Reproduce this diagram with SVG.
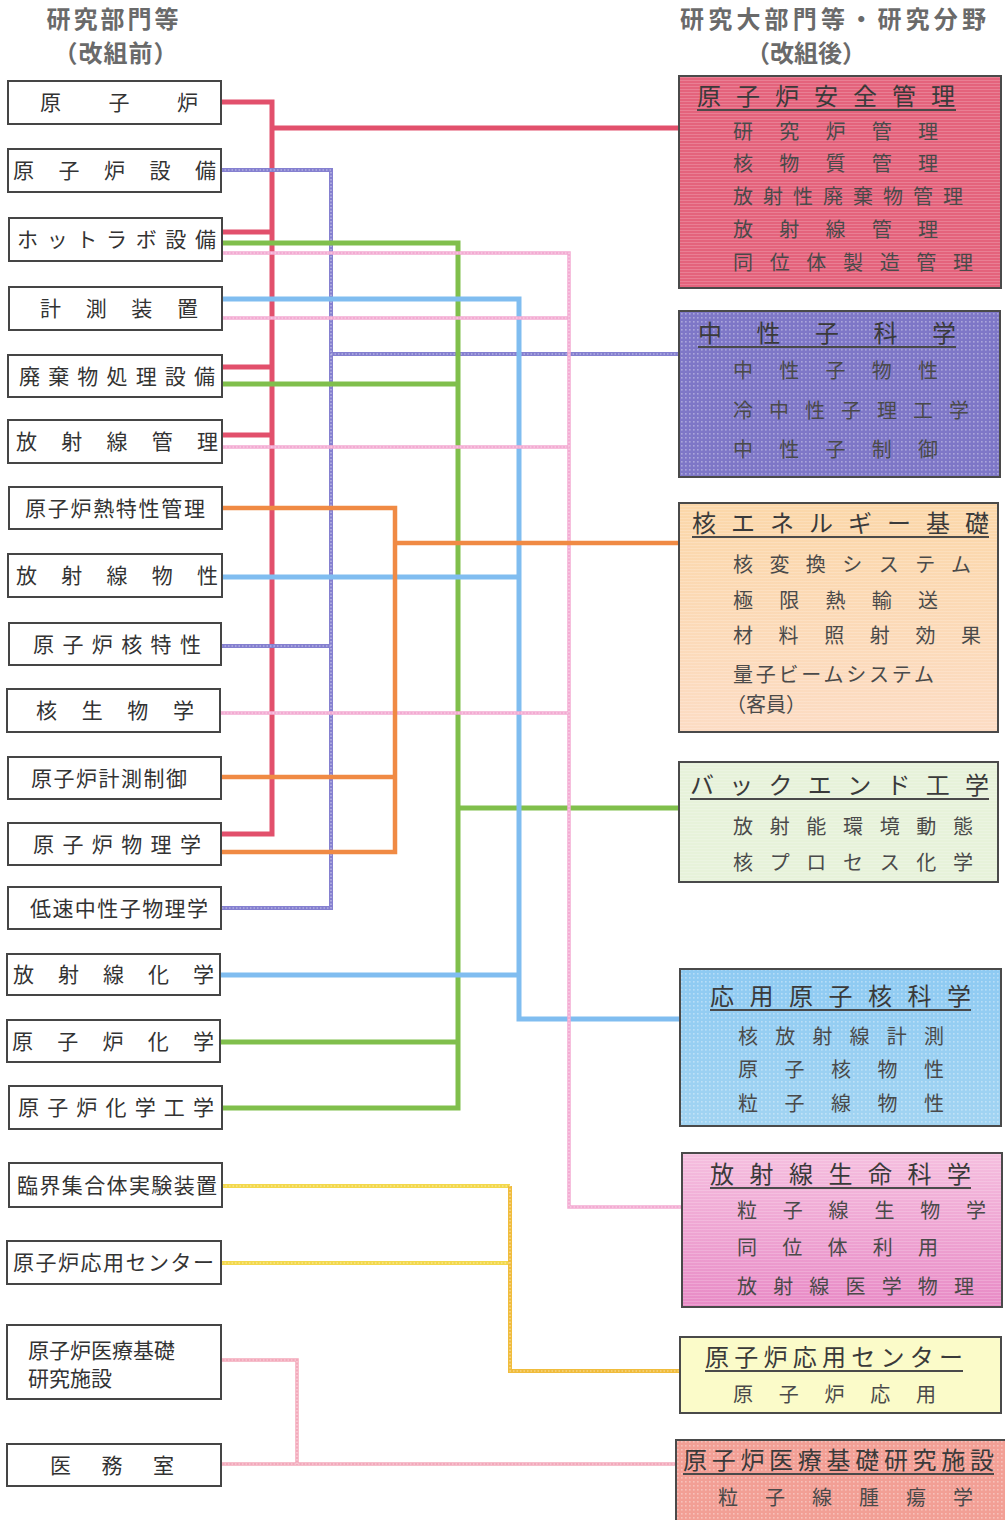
<svg xmlns="http://www.w3.org/2000/svg" width="1005" height="1520" viewBox="0 0 1005 1520">
<defs>
<style>
text{font-family:"Noto Sans CJK JP","Noto Sans CJK SC",sans-serif;}
.hd{font-size:24px;font-weight:700;fill:#6a6a6a;}
.lb rect{fill:#fff;stroke:#454545;stroke-width:2;}
.lb text{font-size:21px;fill:#333;}
.rb rect.bx{stroke:#4a4a4a;stroke-width:2;}
.rt{font-size:24px;fill:#3a3a3a;}
.ri{font-size:20px;fill:#4a4a4a;}
.ul{stroke:#4a4a4a;stroke-width:2;}
.c{fill:none;stroke-linejoin:miter;stroke-linecap:butt;}
.red{stroke:#e2506c;stroke-width:5;}
.pur{stroke:#8580d0;stroke-width:4;}
.grn{stroke:#80bf4c;stroke-width:5;}
.blu{stroke:#80bdf0;stroke-width:5;}
.pnk{stroke:#f3abd2;stroke-width:3.5;}
.org{stroke:#f08a44;stroke-width:4.5;}
.yel{stroke:#f3d84c;stroke-width:4;}
.yel2{stroke:#f0bc3c;stroke-width:4;}
.pk2{stroke:#f3a9bb;stroke-width:3.5;}
.tx{stroke:#fff;stroke-width:1.2;stroke-dasharray:1.5 2;opacity:.55;}
.tex{pointer-events:none;}
</style>
<pattern id="dots" width="4" height="4" patternUnits="userSpaceOnUse"><rect x="1" y="1" width="1.6" height="1.6" fill="#fff" opacity="0.35"/></pattern>
<pattern id="hl" width="4" height="3" patternUnits="userSpaceOnUse"><rect y="2" width="4" height="1" fill="#fff" opacity="0.18"/></pattern>
<linearGradient id="gC" x1="0" y1="0" x2="0" y2="1"><stop offset="0" stop-color="#fbd7a9"/><stop offset="1" stop-color="#fcdcc4"/></linearGradient>
<linearGradient id="gF" x1="0" y1="0" x2="0" y2="1"><stop offset="0" stop-color="#f5bfdf"/><stop offset="1" stop-color="#e88bc6"/></linearGradient>
<linearGradient id="gE" x1="0" y1="0" x2="0" y2="1"><stop offset="0" stop-color="#8ecaf2"/><stop offset="1" stop-color="#a2d4f2"/></linearGradient>
</defs>
<rect width="1005" height="1520" fill="#fff"/>

<g id="headings">
<text class="hd" x="114" y="28" text-anchor="middle" letter-spacing="3">研究部門等</text>
<text class="hd" x="116" y="62" text-anchor="middle" letter-spacing="1">（改組前）</text>
<text class="hd" x="680" y="28" textLength="306" lengthAdjust="spacing">研究大部門等・研究分野</text>
<text class="hd" x="806" y="62" text-anchor="middle">（改組後）</text>
</g>

<g id="connectors">
<path class="c red" d="M221 102H272V834H221M222 232H272M222 367H272M222 435H272M272 128H679"/>
<path class="c pur" d="M221 170H331V908H221M221 646H331M331 354H679"/>
<path class="c tx" d="M221 170H331V908H221M221 646H331M331 354H679"/>
<path class="c grn" d="M222 243H458V1108H222M222 384H458M220 1042H458M458 808H679"/>
<path class="c blu" d="M222 299H519V1019H680M222 577H519M220 975H519"/>
<path class="c pnk" d="M222 253H569V1207H682M222 318H569M222 447H569M220 713H569"/>
<path class="c tx" d="M222 253H569V1207H682M222 318H569M222 447H569M220 713H569"/>
<path class="c org" d="M222 508H395V852H221M221 777H395M395 543H679"/>
<path class="c yel" d="M222 1186H510M221 1263H510"/>
<path class="c yel2" d="M510 1186V1371H680"/>
<path class="c tx" d="M222 1186H510V1371H680M221 1263H510"/>
<path class="c pk2" d="M221 1360H297V1464M221 1464H676"/>
<path class="c tx" d="M221 1360H297V1464M221 1464H676"/>
</g>

<g id="n1" class="lb"><rect x="8" y="81" width="213" height="43"/><text x="40" y="110" textLength="158" lengthAdjust="spacing">原子炉</text></g>
<g id="n2" class="lb"><rect x="8" y="149" width="213" height="43"/><text x="13" y="178" textLength="203" lengthAdjust="spacing">原子炉設備</text></g>
<g id="n3" class="lb"><rect x="9" y="218" width="213" height="43"/><text x="17" y="247" textLength="199" lengthAdjust="spacing">ホットラボ設備</text></g>
<g id="n4" class="lb"><rect x="9" y="287" width="213" height="43"/><text x="40" y="316" textLength="158" lengthAdjust="spacing">計測装置</text></g>
<g id="n5" class="lb"><rect x="8" y="355" width="214" height="42"/><text x="19" y="384" textLength="196" lengthAdjust="spacing">廃棄物処理設備</text></g>
<g id="n6" class="lb"><rect x="8" y="420" width="214" height="43"/><text x="16" y="449" textLength="202" lengthAdjust="spacing">放射線管理</text></g>
<g id="n7" class="lb"><rect x="9" y="487" width="213" height="42"/><text x="25" y="516" textLength="180" lengthAdjust="spacing">原子炉熱特性管理</text></g>
<g id="n8" class="lb"><rect x="8" y="554" width="214" height="43"/><text x="16" y="583" textLength="202" lengthAdjust="spacing">放射線物性</text></g>
<g id="n9" class="lb"><rect x="9" y="623" width="212" height="42"/><text x="33" y="652" textLength="168" lengthAdjust="spacing">原子炉核特性</text></g>
<g id="n10" class="lb"><rect x="7" y="689" width="213" height="43"/><text x="36" y="718" textLength="158" lengthAdjust="spacing">核生物学</text></g>
<g id="n11" class="lb"><rect x="8" y="757" width="213" height="42"/><text x="31" y="786" textLength="156" lengthAdjust="spacing">原子炉計測制御</text></g>
<g id="n12" class="lb"><rect x="8" y="823" width="213" height="42"/><text x="33" y="852" textLength="168" lengthAdjust="spacing">原子炉物理学</text></g>
<g id="n13" class="lb"><rect x="8" y="887" width="213" height="42"/><text x="30" y="916" textLength="178" lengthAdjust="spacing">低速中性子物理学</text></g>
<g id="n14" class="lb"><rect x="7" y="954" width="213" height="41"/><text x="13" y="982" textLength="201" lengthAdjust="spacing">放射線化学</text></g>
<g id="n15" class="lb"><rect x="7" y="1020" width="213" height="42"/><text x="12" y="1049" textLength="202" lengthAdjust="spacing">原子炉化学</text></g>
<g id="n16" class="lb"><rect x="9" y="1086" width="213" height="43"/><text x="18" y="1115" textLength="196" lengthAdjust="spacing">原子炉化学工学</text></g>
<g id="n17" class="lb"><rect x="9" y="1163" width="213" height="44"/><text x="17" y="1193" textLength="200" lengthAdjust="spacing">臨界集合体実験装置</text></g>
<g id="n18" class="lb"><rect x="7" y="1241" width="214" height="43"/><text x="13" y="1270" textLength="201" lengthAdjust="spacing">原子炉応用センター</text></g>
<g id="n19" class="lb"><rect x="7" y="1325" width="214" height="74"/><text x="28" y="1358">原子炉医療基礎</text><text x="28" y="1386">研究施設</text></g>
<g id="n20" class="lb"><rect x="7" y="1444" width="214" height="42"/><text x="50" y="1473" textLength="124" lengthAdjust="spacing">医務室</text></g>

<g id="r1" class="rb">
<rect class="bx" x="679" y="76" width="322" height="212" fill="#e4637c"/>
<rect class="tex" x="680" y="77" width="320" height="210" fill="url(#hl)"/>
<text class="rt" x="697" y="105" textLength="258" lengthAdjust="spacing">原子炉安全管理</text>
<line class="ul" x1="697" y1="110" x2="956" y2="110"/>
<text class="ri" x="733" y="139" textLength="205" lengthAdjust="spacing">研究炉管理</text>
<text class="ri" x="733" y="171" textLength="205" lengthAdjust="spacing">核物質管理</text>
<text class="ri" x="733" y="204" textLength="230" lengthAdjust="spacing">放射性廃棄物管理</text>
<text class="ri" x="733" y="237" textLength="205" lengthAdjust="spacing">放射線管理</text>
<text class="ri" x="733" y="270" textLength="240" lengthAdjust="spacing">同位体製造管理</text>
</g>

<g id="r2" class="rb">
<rect class="bx" x="679" y="311" width="321" height="166" fill="#7e77c7"/>
<rect class="tex" x="680" y="312" width="319" height="164" fill="url(#dots)"/>
<text class="rt" x="698" y="342" textLength="258" lengthAdjust="spacing">中性子科学</text>
<line class="ul" x1="698" y1="347" x2="956" y2="347"/>
<text class="ri" x="733" y="378" textLength="205" lengthAdjust="spacing">中性子物性</text>
<text class="ri" x="733" y="418" textLength="236" lengthAdjust="spacing">冷中性子理工学</text>
<text class="ri" x="733" y="457" textLength="205" lengthAdjust="spacing">中性子制御</text>
</g>

<g id="r3" class="rb">
<rect class="bx" x="679" y="503" width="319" height="229" fill="url(#gC)"/>
<rect class="tex" x="680" y="504" width="317" height="227" fill="url(#hl)"/>
<text class="rt" x="692" y="532" textLength="297" lengthAdjust="spacing">核エネルギー基礎</text>
<line class="ul" x1="692" y1="537" x2="989" y2="537"/>
<text class="ri" x="733" y="572" textLength="238" lengthAdjust="spacing">核変換システム</text>
<text class="ri" x="733" y="608" textLength="205" lengthAdjust="spacing">極限熱輸送</text>
<text class="ri" x="733" y="643" textLength="248" lengthAdjust="spacing">材料照射効果</text>
<text class="ri" x="733" y="682" textLength="201" lengthAdjust="spacing">量子ビームシステム</text>
<text class="ri" x="726" y="712">（客員）</text>
</g>

<g id="r4" class="rb">
<rect class="bx" x="679" y="762" width="319" height="120" fill="#e7f2da"/>
<rect class="tex" x="680" y="763" width="317" height="118" fill="url(#hl)"/>
<text class="rt" x="690" y="794" textLength="299" lengthAdjust="spacing">バックエンド工学</text>
<line class="ul" x1="690" y1="799" x2="989" y2="799"/>
<text class="ri" x="733" y="834" textLength="240" lengthAdjust="spacing">放射能環境動態</text>
<text class="ri" x="733" y="870" textLength="240" lengthAdjust="spacing">核プロセス化学</text>
</g>

<g id="r5" class="rb">
<rect class="bx" x="680" y="969" width="321" height="157" fill="url(#gE)"/>
<rect class="tex" x="681" y="970" width="319" height="155" fill="url(#dots)"/>
<text class="rt" x="710" y="1005" textLength="261" lengthAdjust="spacing">応用原子核科学</text>
<line class="ul" x1="710" y1="1010" x2="971" y2="1010"/>
<text class="ri" x="738" y="1044" textLength="206" lengthAdjust="spacing">核放射線計測</text>
<text class="ri" x="738" y="1077" textLength="206" lengthAdjust="spacing">原子核物性</text>
<text class="ri" x="738" y="1111" textLength="206" lengthAdjust="spacing">粒子線物性</text>
</g>

<g id="r6" class="rb">
<rect class="bx" x="682" y="1153" width="320" height="154" fill="url(#gF)"/>
<rect class="tex" x="683" y="1154" width="318" height="152" fill="url(#hl)"/>
<text class="rt" x="710" y="1183" textLength="261" lengthAdjust="spacing">放射線生命科学</text>
<line class="ul" x1="710" y1="1188" x2="971" y2="1188"/>
<text class="ri" x="737" y="1218" textLength="249" lengthAdjust="spacing">粒子線生物学</text>
<text class="ri" x="737" y="1255" textLength="201" lengthAdjust="spacing">同位体利用</text>
<text class="ri" x="737" y="1294" textLength="237" lengthAdjust="spacing">放射線医学物理</text>
</g>

<g id="r7" class="rb">
<rect class="bx" x="680" y="1337" width="321" height="76" fill="#fbfbc9"/>
<text class="rt" x="705" y="1366" textLength="258" lengthAdjust="spacing">原子炉応用センター</text>
<line class="ul" x1="705" y1="1371" x2="963" y2="1371"/>
<text class="ri" x="733" y="1402" textLength="203" lengthAdjust="spacing">原子炉応用</text>
</g>

<g id="r8" class="rb">
<rect class="bx" x="676" y="1440" width="340" height="90" fill="#f29f95"/>
<rect class="tex" x="677" y="1441" width="338" height="88" fill="url(#dots)"/>
<text class="rt" x="683" y="1469" textLength="311" lengthAdjust="spacing">原子炉医療基礎研究施設</text>
<line class="ul" x1="683" y1="1474" x2="994" y2="1474"/>
<text class="ri" x="718" y="1505" textLength="255" lengthAdjust="spacing">粒子線腫瘍学</text>
</g>
</svg>
